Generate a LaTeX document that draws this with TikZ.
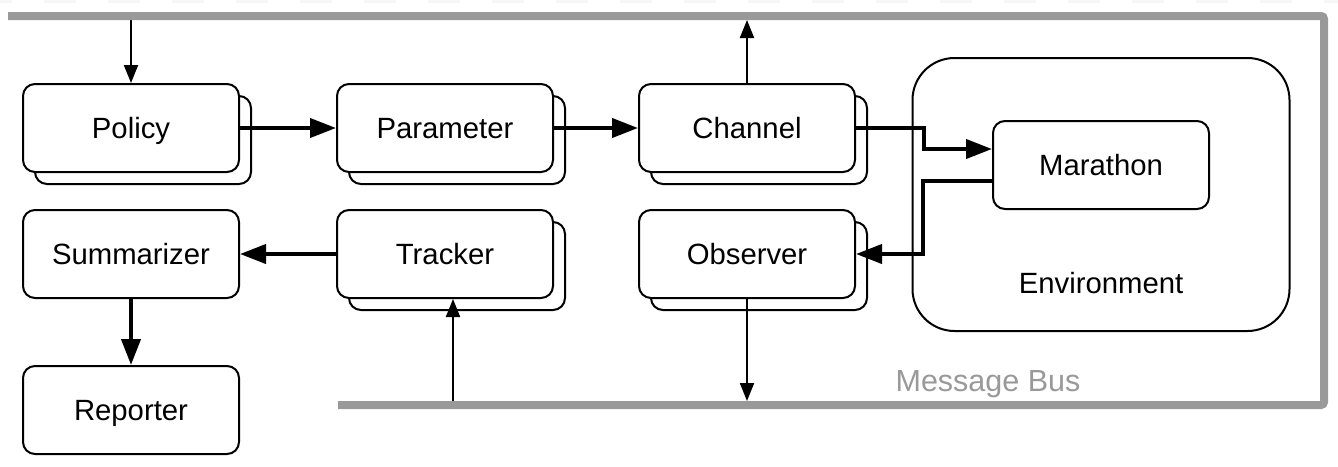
\documentclass[tikz,border=0pt]{standalone}
\usepackage{fontspec}
\setmainfont{Liberation Sans}
\usetikzlibrary{arrows.meta}
\begin{document}
\begin{tikzpicture}[x=1pt,y=-1pt,
  lbl/.style={font=\fontsize{29.3}{34}\selectfont, text height=21pt, text depth=0pt},
  box/.style={draw, line width=2pt, rounded corners=12pt, fill=white,
    minimum width=216pt, minimum height=88pt, inner sep=0pt, lbl},
  bigbox/.style={draw, line width=2pt, rounded corners=42pt, fill=white,
    minimum width=377pt, minimum height=273pt, inner sep=0pt},
  thickarrow/.style={line width=4pt, -{Triangle[length=26pt,width=19pt]}},
  thinarrow/.style={line width=2pt, -{Triangle[length=18pt,width=14pt]}},
  bus/.style={line width=8pt, draw=black!40, rounded corners=3pt},
  buslabel/.style={text=black!40, font=\fontsize{30.5}{35}\selectfont, text height=21.8pt, text depth=0pt, inner sep=0pt}
]
\useasboundingbox (0,0) rectangle (1338,466);
% faint top dashes
\draw[line width=3pt, draw=black!3, dash pattern=on 32pt off 32pt, dash phase=20pt] (0,1.5) -- (1338,1.5);

% environment
\node[bigbox] (env) at (1101,194.5) {};
\node[lbl, inner sep=0pt] (envlabel) at (1101,283) {Environment};
\node[box] (marathon) at (1101,165) {Marathon};

% shadow boxes
\node[box] (policyB) at (143,140) {};
\node[box] (parameterB) at (457,140) {};
\node[box] (channelB) at (759,140) {};
\node[box] (trackerB) at (457,266) {};
\node[box] (observerB) at (759,266) {};

% front boxes
\node[box] (policy) at (131,128) {Policy};
\node[box] (parameter) at (445,128) {Parameter};
\node[box] (channel) at (747,128) {Channel};
\node[box] (summarizer) at (131,254) {Summarizer};
\node[box] (tracker) at (445,254) {Tracker};
\node[box] (observer) at (747,254) {Observer};
\node[box] (reporter) at (131,410) {Reporter};

% message bus
\coordinate (busTL) at (8,16);
\coordinate (busTR) at (1324,16);
\coordinate (busBR) at (1324,405);
\coordinate (busBL) at (338,405);
\node[buslabel] (buslbl) at (988,381) {Message Bus};

% thick arrows
\draw[thickarrow] (policy.east) -- (parameter.west);
\draw[thickarrow] (parameter.east) -- (channel.west);
\draw[thickarrow] (tracker.west) -- (summarizer.east);
\draw[thickarrow] (summarizer.south) -- (reporter.north);
\draw[thickarrow] (channel.east) -- ++(68,0) |- ([yshift=16pt]marathon.west);
\draw[thickarrow] ([yshift=-16pt]marathon.west) -- ++(-69,0) |- (observer.east);

% thin arrows to/from bus
\draw[thinarrow, shorten <=4pt] (policy.north |- busTL) -- (policy.north);
\draw[thinarrow, shorten >=4pt] (channel.north) -- (channel.north |- busTL);
\draw[thinarrow, shorten >=4pt] (observer.south) -- (observer.south |- busBL);
\draw[thinarrow, shorten <=4pt] ([xshift=8pt]tracker.south |- busBL) -- ([xshift=8pt]tracker.south);

\draw[bus] (busTL) -- (busTR) -- (busBR) -- (busBL);
\end{tikzpicture}
\end{document}
